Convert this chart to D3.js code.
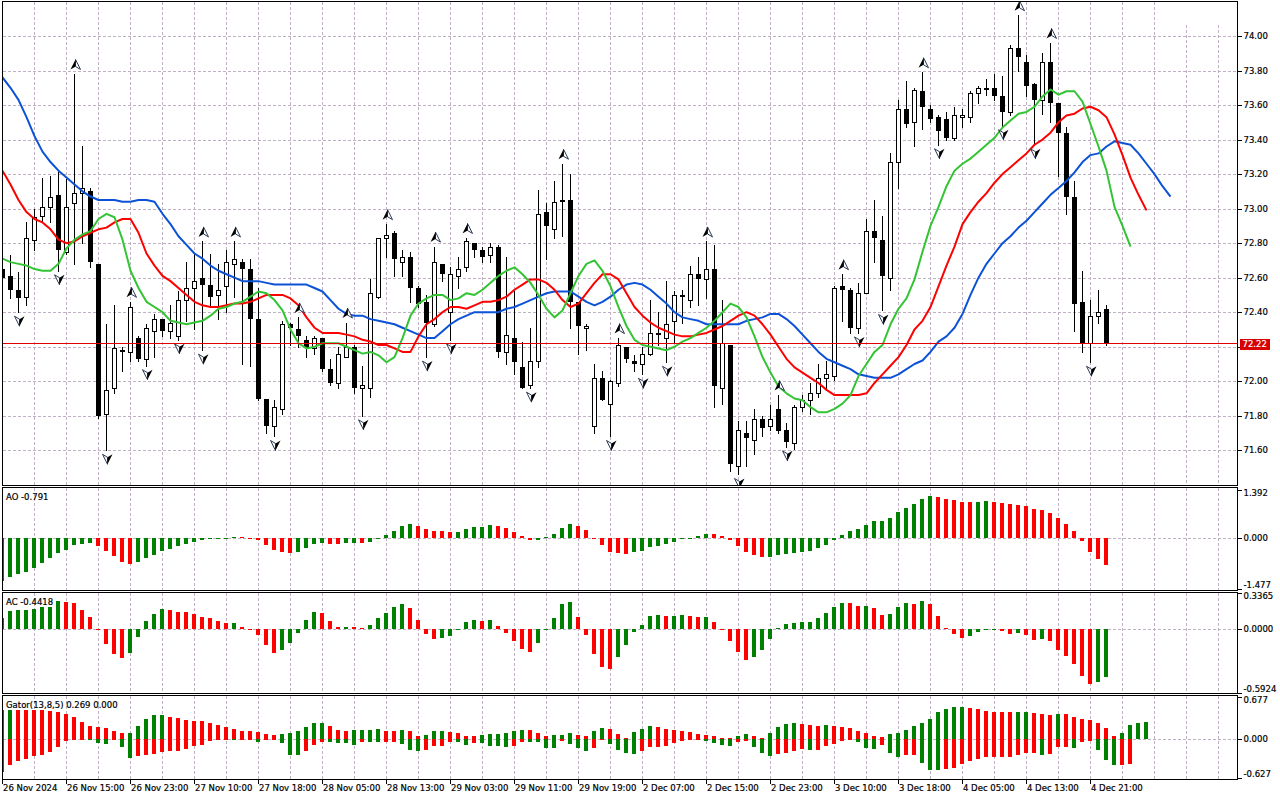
<!DOCTYPE html>
<html>
<head>
<meta charset="utf-8">
<script src="https://d3js.org/d3.v7.min.js"></script>
<style>
  body { margin: 0; background: #fff; }
  text { font-family: "DejaVu Sans", sans-serif; font-size: 8.5px; fill: #000; stroke: #000; stroke-width: 0.2px; }
</style>
</head>
<body>
<div id="chart"></div>
<script>
// hourly candles, 26 Nov - 4 Dec 2024
var open = [72.65,72.61,72.53,72.49,72.82,72.96,73.01,73.08,72.75,73.03,
  73.09,73.10,72.68,71.81,71.96,72.18,72.17,72.25,72.13,72.29,
  72.36,72.29,72.26,72.47,72.54,72.60,72.56,72.50,72.55,72.68,
  72.69,72.65,72.36,71.90,71.74,71.84,72.33,72.30,72.24,72.19,
  72.25,72.07,71.99,72.14,72.20,71.96,71.96,72.49,72.83,72.86,
  72.69,72.72,72.54,72.46,72.33,72.68,72.40,72.61,72.66,72.80,
  72.76,72.73,72.78,72.17,72.25,72.08,71.98,72.12,72.98,72.88,
  73.05,73.05,72.46,72.31,71.74,72.02,71.87,71.99,72.20,72.12,
  72.10,72.16,72.28,72.25,72.35,72.50,72.47,72.62,72.59,72.65,
  71.96,72.21,71.51,71.70,71.66,71.78,71.74,71.84,71.72,71.64,
  71.85,71.89,71.93,72.02,72.03,72.55,72.53,72.31,72.51,72.87,
  72.82,72.60,73.27,73.58,73.50,73.68,73.58,73.53,73.52,73.41,
  73.53,73.53,73.67,73.70,73.70,73.65,73.56,73.93,73.85,73.72,
  73.63,73.85,73.61,73.44,73.07,72.46,72.22,72.38,72.42];
var high = [72.67,72.73,72.63,72.92,73.00,73.18,73.19,73.21,73.17,73.78,
  73.36,73.12,72.68,72.33,72.44,72.20,72.46,72.26,72.33,72.39,
  72.36,72.44,72.52,72.69,72.74,72.81,72.74,72.68,72.76,72.81,
  72.71,72.71,72.54,71.90,71.89,72.35,72.34,72.37,72.26,72.26,
  72.25,72.13,72.20,72.34,72.21,72.09,72.59,72.83,72.91,72.87,
  72.76,72.75,72.55,72.50,72.78,72.68,72.66,72.72,72.83,72.80,
  72.78,72.80,72.79,72.72,72.52,72.23,72.31,73.11,73.03,73.16,
  73.26,73.20,72.46,72.33,72.10,72.06,72.01,72.25,72.20,72.15,
  72.20,72.47,72.40,72.58,72.52,72.53,72.67,72.72,72.81,72.79,
  72.47,72.21,71.77,71.77,71.84,71.80,71.86,71.92,71.76,71.86,
  71.92,71.99,72.10,72.12,72.55,72.62,72.54,72.57,72.94,73.05,
  72.96,73.32,73.63,73.74,73.70,73.79,73.60,73.54,73.56,73.59,
  73.58,73.68,73.71,73.75,73.78,73.77,73.95,74.12,73.89,73.73,
  73.90,73.96,73.61,73.47,73.16,72.64,72.47,72.53,72.44];
var low = [72.58,72.48,72.40,72.44,72.76,72.92,72.92,72.64,72.74,72.68,
  72.80,72.66,71.79,71.60,71.93,72.06,72.12,72.12,72.09,72.14,
  72.26,72.25,72.24,72.35,72.30,72.18,72.43,72.36,72.40,72.49,
  72.10,72.09,71.89,71.70,71.68,71.81,72.21,72.20,72.14,72.16,
  72.06,71.98,71.96,72.14,71.93,71.80,71.91,72.48,72.72,72.61,
  72.61,72.46,72.43,72.14,72.32,72.58,72.24,72.54,72.64,72.72,
  72.69,72.69,72.14,72.10,72.04,71.96,71.96,72.08,72.71,72.83,
  72.84,72.31,72.16,72.18,71.70,71.89,71.68,71.97,72.11,72.06,
  72.04,72.15,72.21,72.11,72.22,72.34,72.43,72.44,72.48,71.85,
  71.87,71.48,71.46,71.51,71.58,71.68,71.72,71.70,71.62,71.61,
  71.83,71.81,71.91,71.96,72.01,72.35,72.28,72.28,72.51,72.69,
  72.41,72.53,73.12,73.47,73.36,73.46,73.50,73.37,73.40,73.40,
  73.47,73.50,73.61,73.66,73.63,73.48,73.54,73.80,73.65,73.37,
  73.55,73.50,73.19,72.97,72.29,72.17,72.11,72.34,72.21];
var close = [72.60,72.53,72.48,72.83,72.95,73.01,73.07,72.76,73.01,73.09,
  73.12,72.69,71.80,71.95,72.19,72.17,72.43,72.13,72.31,72.36,
  72.29,72.34,72.47,72.54,72.58,72.56,72.49,72.53,72.69,72.71,
  72.65,72.36,71.90,71.74,71.85,72.33,72.31,72.26,72.19,72.25,
  72.07,71.99,72.16,72.20,71.96,71.98,72.51,72.83,72.85,72.71,
  72.72,72.54,72.45,72.34,72.69,72.62,72.62,72.65,72.81,72.76,
  72.72,72.78,72.17,72.27,72.11,71.96,72.12,72.97,72.90,73.04,
  73.04,72.46,72.32,72.32,72.02,71.89,72.00,72.21,72.13,72.10,
  72.16,72.28,72.27,72.33,72.50,72.49,72.62,72.59,72.65,71.97,
  72.22,71.52,71.72,71.67,71.78,71.73,71.78,71.71,71.65,71.85,
  71.89,71.93,72.02,72.04,72.54,72.53,72.31,72.51,72.87,72.83,
  72.61,73.27,73.58,73.49,73.69,73.59,73.52,73.45,73.41,73.54,
  73.54,73.67,73.70,73.69,73.65,73.56,73.93,73.88,73.71,73.63,
  73.85,73.61,73.44,73.07,72.45,72.22,72.38,72.40,72.22];
var lastPrice = 72.22;

// Alligator lines as plotted (already shifted forward)
var jaw = [73.76,73.70,73.63,73.53,73.42,73.33,73.27,73.22,73.18,73.14,
  73.10,73.07,73.05,73.05,73.05,73.04,73.04,73.05,73.05,73.04,
  72.97,72.91,72.84,72.79,72.74,72.71,72.67,72.64,72.62,72.60,
  72.58,72.58,72.58,72.57,72.56,72.56,72.56,72.56,72.56,72.54,
  72.52,72.47,72.42,72.39,72.38,72.38,72.36,72.35,72.34,72.33,
  72.31,72.29,72.27,72.25,72.25,72.29,72.33,72.36,72.38,72.40,
  72.40,72.40,72.40,72.42,72.43,72.45,72.47,72.49,72.51,72.52,
  72.52,72.52,72.49,72.46,72.44,72.46,72.49,72.53,72.56,72.57,
  72.56,72.53,72.49,72.45,72.40,72.37,72.36,72.35,72.33,72.33,
  72.33,72.33,72.33,72.35,72.36,72.37,72.39,72.39,72.36,72.32,
  72.27,72.22,72.17,72.13,72.11,72.09,72.07,72.04,72.03,72.02,
  72.02,72.02,72.04,72.07,72.10,72.12,72.17,72.23,72.26,72.31,
  72.39,72.50,72.60,72.68,72.74,72.80,72.84,72.89,72.93,72.98,
  73.03,73.08,73.12,73.16,73.21,73.27,73.31,73.32,73.36,73.39,
  73.38,73.37,73.32,73.26,73.20,73.13,73.07];
var teeth = [73.22,73.14,73.05,72.98,72.94,72.92,72.88,72.82,72.80,72.81,
  72.84,72.86,72.88,72.89,72.92,72.94,72.94,72.86,72.74,72.67,
  72.61,72.58,72.54,72.50,72.46,72.44,72.43,72.43,72.44,72.45,
  72.45,72.46,72.48,72.50,72.50,72.50,72.48,72.44,72.37,72.31,
  72.28,72.28,72.28,72.27,72.26,72.24,72.23,72.21,72.21,72.19,
  72.17,72.17,72.26,72.33,72.36,72.40,72.43,72.43,72.42,72.44,
  72.46,72.46,72.47,72.49,72.53,72.56,72.59,72.59,72.57,72.53,
  72.47,72.43,72.45,72.51,72.57,72.62,72.62,72.59,72.51,72.43,
  72.38,72.34,72.31,72.29,72.27,72.26,72.26,72.27,72.28,72.30,
  72.32,72.35,72.38,72.40,72.38,72.33,72.27,72.20,72.13,72.08,
  72.05,72.02,71.99,71.95,71.92,71.92,71.92,71.92,71.93,71.99,
  72.04,72.09,72.14,72.21,72.30,72.35,72.43,72.55,72.67,72.78,
  72.91,72.98,73.04,73.09,73.15,73.20,73.24,73.28,73.32,73.37,
  73.40,73.44,73.50,73.54,73.55,73.58,73.59,73.57,73.53,73.43,
  73.31,73.18,73.08,72.99];
var lips = [72.71,72.69,72.68,72.67,72.65,72.64,72.64,72.68,72.77,72.82,
  72.85,72.87,72.94,72.97,72.95,72.82,72.64,72.54,72.46,72.43,
  72.40,72.35,72.34,72.33,72.34,72.35,72.38,72.42,72.43,72.45,
  72.46,72.49,72.52,72.51,72.47,72.41,72.30,72.22,72.19,72.20,
  72.22,72.22,72.22,72.20,72.18,72.16,72.17,72.15,72.11,72.14,
  72.25,72.38,72.45,72.48,72.50,72.50,72.47,72.48,72.51,72.50,
  72.53,72.57,72.61,72.64,72.66,72.62,72.57,72.50,72.42,72.37,
  72.41,72.51,72.61,72.68,72.70,72.64,72.55,72.43,72.32,72.24,
  72.21,72.20,72.19,72.18,72.20,72.23,72.25,72.28,72.31,72.35,
  72.40,72.45,72.43,72.37,72.26,72.14,72.05,71.97,71.93,71.90,
  71.89,71.85,71.82,71.82,71.84,71.87,71.92,72.03,72.10,72.17,
  72.21,72.33,72.42,72.48,72.59,72.75,72.90,73.01,73.13,73.22,
  73.26,73.29,73.33,73.37,73.41,73.47,73.51,73.55,73.56,73.59,
  73.65,73.69,73.66,73.68,73.68,73.62,73.49,73.36,73.22,73.01,
  72.90,72.78];

var fractalUp = [9,16,25,29,37,43,48,54,58,70,77,88,97,105,115,127,131];
var fractalDown = [2,7,13,18,22,25,34,45,53,56,66,76,80,83,92,98,107,110,117,125,129,136];

var ao = [-1.27,-1.14,-1.06,-0.98,-0.88,-0.74,-0.60,-0.44,-0.35,-0.21,
  -0.18,-0.15,-0.24,-0.38,-0.54,-0.69,-0.77,-0.70,-0.60,-0.51,
  -0.38,-0.32,-0.24,-0.18,-0.12,-0.07,-0.03,-0.01,-0.005,0.02,
  0.01,-0.005,-0.07,-0.21,-0.35,-0.42,-0.45,-0.41,-0.30,-0.18,
  -0.15,-0.18,-0.19,-0.15,-0.14,-0.15,-0.12,-0.03,0.08,0.20,
  0.34,0.40,0.34,0.26,0.20,0.19,0.16,0.17,0.26,0.31,
  0.32,0.37,0.34,0.28,0.18,0.05,-0.06,-0.05,0.01,0.11,
  0.28,0.40,0.34,0.23,-0.005,-0.21,-0.42,-0.45,-0.48,-0.42,
  -0.38,-0.27,-0.24,-0.18,-0.13,-0.03,0.005,0.05,0.11,0.10,
  0.05,-0.06,-0.24,-0.41,-0.51,-0.57,-0.56,-0.51,-0.47,-0.44,
  -0.41,-0.38,-0.30,-0.20,-0.07,0.08,0.20,0.26,0.37,0.49,
  0.50,0.58,0.75,0.87,0.99,1.12,1.22,1.19,1.13,1.10,
  1.05,1.04,1.05,1.06,1.04,1.01,0.99,0.96,0.93,0.84,
  0.81,0.72,0.58,0.40,0.20,-0.09,-0.41,-0.61,-0.791];
var ac = [0.109,0.171,0.181,0.184,0.193,0.209,0.212,0.265,0.255,0.246,
  0.181,0.115,-0.003,-0.134,-0.227,-0.268,-0.218,-0.069,0.078,0.143,
  0.190,0.178,0.162,0.159,0.143,0.112,0.106,0.078,0.056,0.059,
  0.019,-0.009,-0.050,-0.143,-0.218,-0.193,-0.125,-0.031,0.087,0.162,
  0.153,0.078,0.022,0.025,0.019,0.009,0.040,0.103,0.153,0.209,
  0.237,0.199,0.087,-0.040,-0.087,-0.081,-0.059,0.003,0.069,0.087,
  0.078,0.089,0.031,-0.031,-0.109,-0.181,-0.209,-0.125,-0.009,0.106,
  0.237,0.255,0.115,-0.053,-0.230,-0.352,-0.371,-0.259,-0.146,-0.025,
  0.040,0.125,0.134,0.125,0.128,0.134,0.125,0.115,0.116,0.069,
  -0.003,-0.109,-0.212,-0.287,-0.259,-0.193,-0.087,0.009,0.053,0.062,
  0.069,0.070,0.106,0.153,0.209,0.246,0.245,0.221,0.222,0.199,
  0.134,0.143,0.209,0.246,0.237,0.265,0.237,0.125,0.009,-0.040,
  -0.078,-0.059,-0.022,-0.006,-0.004,-0.012,-0.040,-0.031,-0.050,-0.097,
  -0.087,-0.106,-0.193,-0.249,-0.321,-0.433,-0.511,-0.489,-0.4418];
var gatorUp = [0.470,0.472,0.468,0.466,0.464,0.462,0.449,0.432,0.405,0.362,
  0.276,0.216,0.195,0.173,0.130,0.097,0.098,0.216,0.324,0.389,
  0.390,0.357,0.335,0.314,0.292,0.286,0.259,0.227,0.200,0.162,
  0.135,0.124,0.114,0.081,0.070,0.081,0.092,0.130,0.200,0.259,
  0.260,0.216,0.141,0.130,0.141,0.146,0.147,0.162,0.130,0.128,
  0.146,0.130,0.049,0.065,0.130,0.131,0.114,0.097,0.049,0.048,
  0.065,0.081,0.082,0.097,0.130,0.146,0.140,0.097,0.049,0.065,
  0.070,0.103,0.070,0.054,0.135,0.184,0.168,0.086,0.022,0.119,
  0.168,0.216,0.200,0.168,0.151,0.135,0.119,0.086,0.070,0.054,
  0.022,0.020,0.054,0.086,0.054,0.011,0.097,0.195,0.243,0.259,
  0.243,0.227,0.211,0.227,0.211,0.195,0.178,0.130,0.097,0.049,
  0.038,0.081,0.097,0.146,0.211,0.259,0.324,0.432,0.486,0.524,
  0.525,0.503,0.486,0.454,0.438,0.437,0.436,0.437,0.438,0.422,
  0.405,0.389,0.405,0.404,0.357,0.324,0.308,0.259,0.178,0.049,
  0.097,0.227,0.259,0.269];
var gatorDown = [-0.535,-0.416,-0.362,-0.319,-0.276,-0.254,-0.211,-0.124,-0.032,-0.015,
  -0.005,-0.020,-0.059,-0.076,-0.020,-0.124,-0.303,-0.276,-0.265,-0.243,
  -0.211,-0.200,-0.189,-0.168,-0.114,-0.092,-0.032,-0.016,-0.005,-0.016,
  -0.003,-0.002,-0.049,-0.010,-0.005,-0.059,-0.254,-0.256,-0.195,-0.097,
  -0.049,-0.050,-0.059,-0.060,-0.092,-0.043,-0.049,-0.050,-0.049,-0.043,
  -0.076,-0.173,-0.195,-0.173,-0.108,-0.107,-0.043,-0.045,-0.092,-0.059,
  -0.060,-0.108,-0.109,-0.124,-0.108,-0.043,-0.044,-0.045,-0.141,-0.142,
  -0.038,-0.076,-0.141,-0.189,-0.141,-0.005,-0.076,-0.173,-0.222,-0.238,
  -0.189,-0.124,-0.123,-0.108,-0.059,-0.027,-0.011,-0.005,-0.027,-0.059,
  -0.092,-0.108,-0.043,-0.027,-0.124,-0.222,-0.270,-0.238,-0.222,-0.189,
  -0.157,-0.173,-0.172,-0.108,-0.076,-0.027,-0.005,-0.043,-0.141,-0.157,
  -0.092,-0.222,-0.286,-0.265,-0.264,-0.384,-0.497,-0.498,-0.481,-0.465,
  -0.400,-0.362,-0.330,-0.297,-0.286,-0.285,-0.284,-0.265,-0.227,-0.226,
  -0.254,-0.238,-0.135,-0.124,-0.141,-0.043,-0.027,-0.173,-0.341,-0.416,
  -0.415,-0.400];

var priceTicks = [71.60,71.80,72.00,72.20,72.40,72.60,72.80,73.00,73.20,73.40,73.60,73.80,74.00];
var aoTicks = [1.392, 0, -1.477];
var acTicks = [0.3365, 0, -0.5924];
var gatorTicks = [0.677, 0, -0.627];
var timeLabels = ["26 Nov 2024","26 Nov 15:00","26 Nov 23:00","27 Nov 10:00","27 Nov 18:00",
  "28 Nov 05:00","28 Nov 13:00","29 Nov 03:00","29 Nov 11:00","29 Nov 19:00",
  "2 Dec 07:00","2 Dec 15:00","2 Dec 23:00","3 Dec 10:00","3 Dec 18:00",
  "4 Dec 05:00","4 Dec 13:00","4 Dec 21:00"];

var width = 1280;
var height = 800;
var plotLeft = 2.5;
var plotRight = 1237.5;
var green = "#008000";
var red = "#ff0000";
var gridColor = "#c0b0c4";

var svg = d3.select("#chart")
  .append("svg")
  .attr("width", width)
  .attr("height", height);

//scales
var x = d3.scaleLinear().domain([0, 152]).range([2.5, 1218.5]);
var yMain = d3.scaleLinear().domain([71.6, 74.0]).range([450.3, 36.0]);
var yAO = d3.scaleLinear().domain([-1.477, 1.392]).range([588.6, 490.0]);
var yAC = d3.scaleLinear().domain([-0.5924, 0.3365]).range([692.7, 593.3]);
var yGator = d3.scaleLinear().domain([-0.627, 0.677]).range([777.7, 697.2]);

var panels = [
  {id: "main", top: 1.5, bottom: 485.5},
  {id: "ao", top: 487.5, bottom: 590.5},
  {id: "ac", top: 592.5, bottom: 693.5},
  {id: "gator", top: 695.5, bottom: 779.5}
];

var defs = svg.append("defs");
panels.forEach(function (p) {
  defs.append("clipPath").attr("id", "clip-" + p.id)
    .append("rect")
    .attr("x", plotLeft).attr("y", p.top)
    .attr("width", plotRight - plotLeft).attr("height", p.bottom - p.top);
});

var gridTicks = d3.range(0, 153, 4);

//vertical grid in every panel
panels.forEach(function (p) {
  svg.append("g")
    .selectAll("line")
    .data(gridTicks)
    .enter().append("line")
    .attr("x1", function (d) { return x(d); })
    .attr("x2", function (d) { return x(d); })
    .attr("y1", function (d) { return (p.id === "main" && d >= 148) ? 25 : p.top; })
    .attr("y2", p.bottom)
    .attr("stroke", gridColor)
    .attr("stroke-dasharray", "3,2")
    .attr("shape-rendering", "crispEdges");
});

//horizontal grid in main chart
svg.append("g")
  .selectAll("line")
  .data(priceTicks)
  .enter().append("line")
  .attr("x1", plotLeft).attr("x2", plotRight)
  .attr("y1", function (d) { return Math.round(yMain(d)) + 0.5; })
  .attr("y2", function (d) { return Math.round(yMain(d)) + 0.5; })
  .attr("stroke", gridColor)
  .attr("stroke-dasharray", "3,2")
  .attr("shape-rendering", "crispEdges");

//zero lines in indicator windows
[yAO, yAC, yGator].forEach(function (s) {
  svg.append("line")
    .attr("x1", plotLeft).attr("x2", plotRight)
    .attr("y1", Math.round(s(0)) + 0.5).attr("y2", Math.round(s(0)) + 0.5)
    .attr("stroke", gridColor)
    .attr("stroke-dasharray", "3,2")
    .attr("shape-rendering", "crispEdges");
});

var gMain = svg.append("g").attr("clip-path", "url(#clip-main)");

//candles
var bars = close.map(function (c, i) {
  return {i: i, o: open[i], h: high[i], l: low[i], c: c};
});

var candle = gMain.selectAll("g.candle")
  .data(bars)
  .enter().append("g")
  .attr("class", "candle")
  .attr("shape-rendering", "crispEdges");

candle.append("line")
  .attr("x1", function (d) { return x(d.i); })
  .attr("x2", function (d) { return x(d.i); })
  .attr("y1", function (d) { return Math.round(yMain(d.h)); })
  .attr("y2", function (d) { return Math.round(yMain(d.l)) + 1; })
  .attr("stroke", "#000");

candle.append("rect")
  .attr("x", function (d) { return d.c >= d.o ? x(d.i) - 2 : x(d.i) - 2.5; })
  .attr("width", function (d) { return d.c >= d.o ? 4 : 5; })
  .attr("y", function (d) {
    var t = Math.round(yMain(Math.max(d.o, d.c)));
    return d.c >= d.o ? t + 0.5 : t;
  })
  .attr("height", function (d) {
    var t = Math.round(yMain(Math.max(d.o, d.c)));
    var b = Math.round(yMain(Math.min(d.o, d.c)));
    return Math.max(d.c >= d.o ? 1 : 2, b - t);
  })
  .attr("fill", function (d) { return d.c >= d.o ? "#fff" : "#000"; })
  .attr("stroke", function (d) { return d.c >= d.o ? "#000" : "none"; });

//current price line, over the candles
var yLast = Math.round(yMain(lastPrice));
svg.append("rect")
  .attr("x", 3).attr("y", yLast)
  .attr("width", plotRight - 3.5).attr("height", 1)
  .style("fill", "#e00000");

//alligator
var line = d3.line()
  .x(function (d, i) { return x(i); })
  .y(function (d) { return yMain(d); });

[[jaw, "#0b52d6"], [teeth, "#ff0000"], [lips, "#33c433"]].forEach(function (s) {
  gMain.append("path")
    .datum(s[0])
    .attr("d", line)
    .attr("fill", "none")
    .attr("stroke", s[1])
    .attr("stroke-width", 2)
    .attr("stroke-linejoin", "round");
});

//fractals
var gFr = gMain.append("g");
fractalUp.forEach(function (k) {
  var g = gFr.append("g")
    .attr("transform", "translate(" + (x(k) + 1) + "," + (yMain(high[k]) - 9) + ")");
  g.append("path").attr("d", "M0,-5.5L5,4.5L0,1.5Z")
    .attr("fill", "#fff").attr("stroke", "#2b3a55").attr("stroke-width", 1);
  g.append("path").attr("d", "M0,-5.5L-5,4.5L0,1.5Z").attr("fill", "#000");
});
fractalDown.forEach(function (k) {
  var g = gFr.append("g")
    .attr("transform", "translate(" + (x(k) + 1) + "," + (yMain(low[k]) + 8.5) + ")");
  g.append("path").attr("d", "M0,5.5L-5,-4.5L0,-1.5Z")
    .attr("fill", "#fff").attr("stroke", "#2b3a55").attr("stroke-width", 1);
  g.append("path").attr("d", "M0,5.5L5,-4.5L0,-1.5Z").attr("fill", "#000");
});

//histograms
function histogram(id, values, yScale, firstColor, byAbs) {
  var y0 = Math.round(yScale(0));
  svg.append("g")
    .attr("clip-path", "url(#clip-" + id + ")")
    .attr("shape-rendering", "crispEdges")
    .selectAll("rect")
    .data(values)
    .enter().append("rect")
    .attr("x", function (d, i) { return x(i) - 2.5; })
    .attr("width", 4)
    .attr("y", function (d) { return Math.min(Math.round(yScale(d)), y0); })
    .attr("height", function (d) { return Math.max(1, Math.abs(Math.round(yScale(d)) - y0)); })
    .attr("fill", function (d, i) {
      if (i === 0) return firstColor;
      var a = byAbs ? Math.abs(d) : d;
      var b = byAbs ? Math.abs(values[i - 1]) : values[i - 1];
      return a > b ? green : red;
    });
}
histogram("ao", ao, yAO, green, false);
histogram("ac", ac, yAC, green, false);
histogram("gator", gatorUp, yGator, red, false);
histogram("gator", gatorDown, yGator, red, true);

//panel frames
panels.forEach(function (p) {
  svg.append("rect")
    .attr("x", plotLeft).attr("y", p.top)
    .attr("width", plotRight - plotLeft).attr("height", p.bottom - p.top)
    .attr("fill", "none").attr("stroke", "#000")
    .attr("shape-rendering", "crispEdges");
});

//price axis
var gAxis = svg.append("g");
gAxis.selectAll("line.pt")
  .data(priceTicks)
  .enter().append("line")
  .attr("x1", plotRight).attr("x2", plotRight + 4)
  .attr("y1", function (d) { return Math.round(yMain(d)) + 0.5; })
  .attr("y2", function (d) { return Math.round(yMain(d)) + 0.5; })
  .attr("stroke", "#000").attr("shape-rendering", "crispEdges");
gAxis.selectAll("text.pt")
  .data(priceTicks)
  .enter().append("text")
  .attr("x", plotRight + 6)
  .attr("y", function (d) { return yMain(d); })
  .attr("dy", "0.35em")
  .text(function (d) { return d.toFixed(2); });

//last price tag
gAxis.append("rect")
  .attr("x", 1240).attr("y", 339)
  .attr("width", 30).attr("height", 11)
  .style("fill", "#d80000");
gAxis.append("text")
  .attr("x", 1242.5).attr("y", 344.5).attr("dy", "0.35em")
  .style("fill", "#fff").style("stroke", "#fff")
  .text(lastPrice.toFixed(2));

//indicator scales
function sideScale(ticks, yScale, digits) {
  ticks.forEach(function (t, i) {
    var yy = Math.round(yScale(t)) + 0.5;
    gAxis.append("line")
      .attr("x1", plotRight).attr("x2", plotRight + 4)
      .attr("y1", yy).attr("y2", yy)
      .attr("stroke", "#000").attr("shape-rendering", "crispEdges");
    var off = i === 0 ? 3 : (i === 2 ? -4 : 0);
    gAxis.append("text")
      .attr("x", plotRight + 6)
      .attr("y", yScale(t) + off)
      .attr("dy", "0.35em")
      .text(t.toFixed(digits));
  });
}
sideScale(aoTicks, yAO, 3);
sideScale(acTicks, yAC, 4);
sideScale(gatorTicks, yGator, 3);

//indicator titles
svg.append("text").attr("x", 6).attr("y", 496.7).attr("dy", "0.35em").text("AO " + ao[ao.length - 1].toFixed(3));
svg.append("text").attr("x", 6).attr("y", 601.7).attr("dy", "0.35em").text("AC " + ac[ac.length - 1].toFixed(4));
svg.append("text").attr("x", 6).attr("y", 704.7).attr("dy", "0.35em")
  .text("Gator(13,8,5) " + gatorUp[gatorUp.length - 1].toFixed(3) + " 0.000");

//time axis
var gTime = svg.append("g");
timeLabels.forEach(function (lab, j) {
  var k = j * 8;
  gTime.append("line")
    .attr("x1", x(k)).attr("x2", x(k))
    .attr("y1", 779.5).attr("y2", 784)
    .attr("stroke", "#000").attr("shape-rendering", "crispEdges");
  gTime.append("text")
    .attr("x", x(k) + 0.5)
    .attr("y", 788.5)
    .attr("dy", "0.35em")
    .text(lab);
});
</script>
</body>
</html>
